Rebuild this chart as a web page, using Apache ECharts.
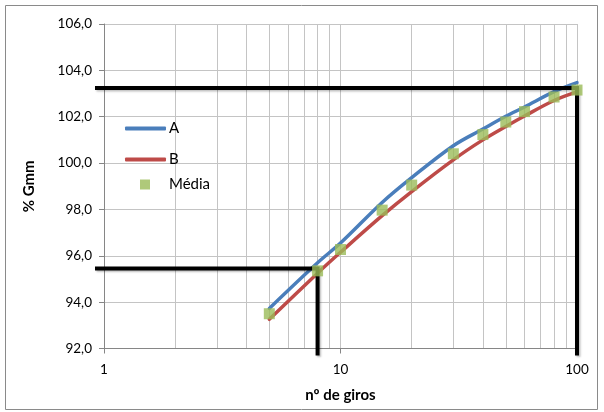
<!DOCTYPE html>
<html><head><meta charset="utf-8">
<script src="https://cdn.jsdelivr.net/npm/echarts@6/dist/echarts.min.js"></script>
<style>html,body{margin:0;padding:0;background:#fff}#c{width:604px;height:412px}</style>
</head><body><div id="c"></div>
<script>
// Data
const giros = [5, 8, 10, 15, 20, 30, 40, 50, 60, 80, 100];
const serieA = [93.73, 95.7, 96.55, 98.3, 99.37, 100.75, 101.47, 102.02, 102.42, 103.08, 103.47];
const serieB = [93.26, 95.25, 96.15, 97.73, 98.77, 100.14, 101.0, 101.58, 102.03, 102.7, 103.07];
const media = [93.5, 95.35, 96.27, 97.97, 99.05, 100.4, 101.23, 101.77, 102.22, 102.85, 103.15];
const minorGridX = [2, 3, 4, 5, 6, 7, 8, 9, 20, 30, 40, 50, 60, 70, 80, 90];
const xTickLabels = ['1', '10', '100'];
// guide corners (nº de giros, % Gmm)
const guidePoints = [[8, 95.45], [100, 103.24]];

const pairs = (xs, ys) => xs.map((x, i) => [x, ys[i]]);
const FONT = 'Lato';
const X_MIN = 1, Y_MIN = 92;
const chart = echarts.init(document.getElementById('c'), null, {renderer: 'canvas'});
chart.setOption({
  animation: false,
  backgroundColor: '#fff',
  textStyle: {fontFamily: FONT},
  grid: {left: 104, right: 27, top: 24, bottom: 63.5, outerBoundsMode: 'none', containLabel: false},
  legend: [{
    data: ['A', 'B'], orient: 'vertical', left: 125, top: 119, padding: 0,
    icon: 'roundRect', itemWidth: 41, itemHeight: 4, itemGap: 12,
    textStyle: {fontFamily: FONT, fontSize: 15, color: '#000', lineHeight: 16, padding: [3, 0, 0, -2]}
  }, {
    data: ['Média'], orient: 'vertical', left: 140, top: 176.5, padding: 0,
    itemWidth: 10, itemHeight: 10, icon: 'rect',
    textStyle: {fontFamily: FONT, fontSize: 15, color: '#000', lineHeight: 16, padding: [0, 0, 0, 14]}
  }],
  xAxis: {
    type: 'log', logBase: 10, min: X_MIN, max: 100,
    name: 'nº de giros', nameLocation: 'middle', nameGap: 39,
    nameTextStyle: {fontFamily: FONT, fontSize: 15, fontWeight: 'bold', color: '#000'},
    axisLine: {show: true, lineStyle: {color: '#868686', width: 1}},
    axisTick: {show: true, length: 5, lineStyle: {color: '#868686'}},
    axisLabel: {fontFamily: FONT, fontSize: 13.5, color: '#000', margin: 14,
      formatter: v => { const s = String(Math.round(v)); return xTickLabels.includes(s) ? s : ''; }},
    splitLine: {show: true, lineStyle: {color: '#c4c4c4', width: 1}},
    minorTick: {show: false}, minorSplitLine: {show: false}
  },
  yAxis: {
    type: 'value', min: Y_MIN, max: 106, interval: 2,
    name: '% Gmm', nameLocation: 'middle', nameGap: 67, nameRotate: 90,
    nameTextStyle: {fontFamily: FONT, fontSize: 15, fontWeight: 'bold', color: '#000'},
    axisLine: {show: true, lineStyle: {color: '#868686', width: 1}},
    axisTick: {show: true, length: 5, lineStyle: {color: '#868686'}},
    axisLabel: {fontFamily: FONT, fontSize: 13.5, color: '#000', margin: 12,
      formatter: v => v.toFixed(1).replace('.', ',')},
    splitLine: {show: true, lineStyle: {color: '#c4c4c4', width: 1}}
  },
  series: [{
    name: 'grid-minor', type: 'line', data: [], silent: true, z: 0,
    markLine: {
      silent: true, symbol: ['none', 'none'], animation: false, z: 0,
      label: {show: false},
      lineStyle: {color: '#c4c4c4', width: 1, type: 'solid'},
      emphasis: {disabled: true},
      data: minorGridX.map(v => ({xAxis: v}))
    }
  }, {
    name: 'A', type: 'line', smooth: 0.35, symbol: 'none', showSymbol: false, z: 3,
    data: pairs(giros, serieA), color: '#4A7EBB',
    lineStyle: {color: '#4A7EBB', width: 3.5, cap: 'round'}
  }, {
    name: 'B', type: 'line', smooth: 0.35, symbol: 'none', showSymbol: false, z: 3,
    data: pairs(giros, serieB), color: '#BE4B48',
    lineStyle: {color: '#BE4B48', width: 3.5, cap: 'round'}
  }, {
    name: 'Média', type: 'scatter', symbol: 'rect', symbolSize: 11, z: 6,
    data: pairs(giros, media), itemStyle: {color: '#9BBB59'}
  }]
});

// black guide lines, positioned through the chart's own scales
const toPx = p => chart.convertToPixel({gridIndex: 0}, p);
const guides = guidePoints.map((pt, i) => {
  const [xa] = toPx([X_MIN, pt[1]]);
  const [x1, y1] = toPx(pt);
  const [, yb] = toPx([pt[0], Y_MIN]);
  return {
    type: 'polyline', id: 'guide' + i, z: 4, silent: true,
    shape: {points: [[xa - 9, y1], [x1, y1], [x1, yb + 7]]},
    style: {stroke: '#000', lineWidth: 4, fill: null, lineJoin: 'miter',
      shadowColor: 'rgba(0,0,0,0.25)', shadowBlur: 2, shadowOffsetX: 1.5, shadowOffsetY: 1.5}
  };
});
chart.setOption({
  graphic: [{
    type: 'rect', id: 'frame', shape: {x: 5.5, y: 5.5, width: 592, height: 404},
    style: {fill: 'none', stroke: '#8a8a8a', lineWidth: 1}, silent: true, z: -10
  }].concat(guides)
});
</script></body></html>
